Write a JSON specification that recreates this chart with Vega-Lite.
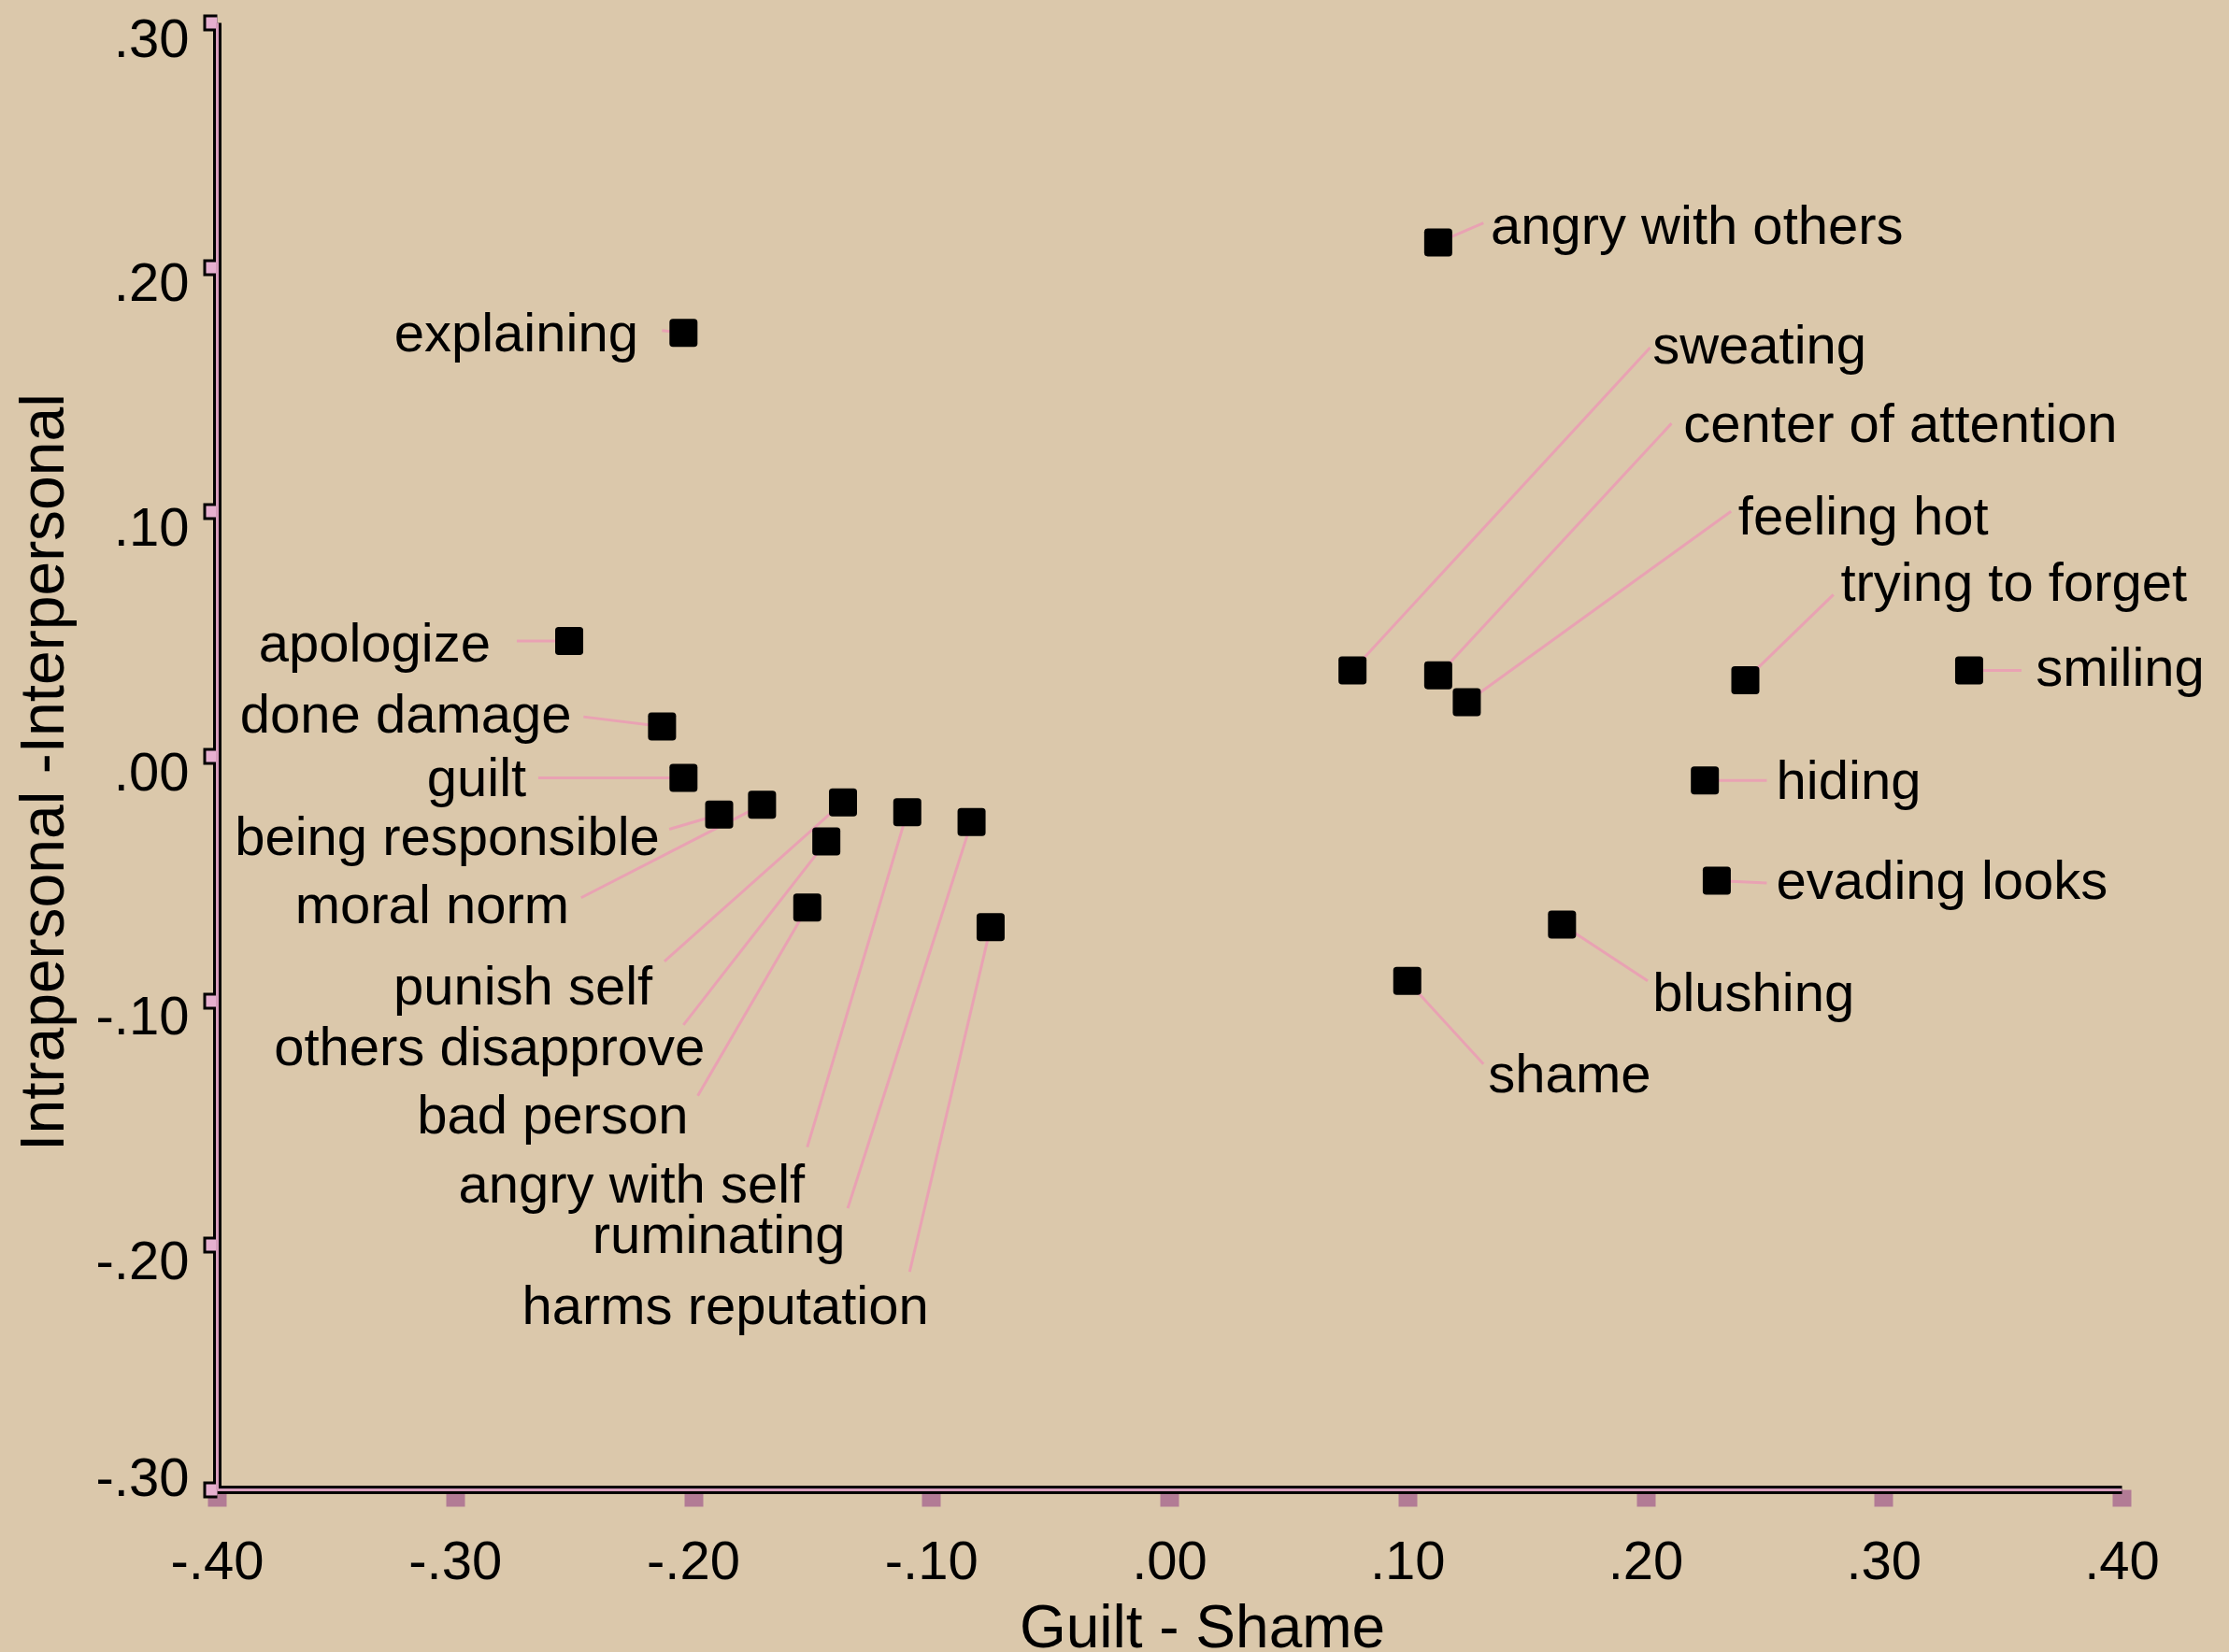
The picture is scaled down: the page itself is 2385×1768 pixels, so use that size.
{
  "$schema": "https://vega.github.io/schema/vega-lite/v6.json",
  "autosize": "none",
  "width": 2038,
  "height": 1570,
  "padding": {"left": 232, "top": 24, "right": 115, "bottom": 174},
  "background": "#dbc8ab",
  "config": {
    "view": {"stroke": null},
    "font": "Liberation Sans",
    "text": {"font": "Liberation Sans", "fontSize": 58, "color": "#000000", "baseline": "middle"}
  },
  "data": {
    "values": [
      {"label": "angry with others", "x": 0.113, "y": 0.210, "lx": 0.132, "ly": 0.218, "tx": 0.135, "ty": 0.216, "side": "R"},
      {"label": "explaining", "x": -0.204, "y": 0.173, "lx": -0.213, "ly": 0.174, "tx": -0.223, "ty": 0.172, "side": "L"},
      {"label": "apologize", "x": -0.252, "y": 0.047, "lx": -0.274, "ly": 0.047, "tx": -0.285, "ty": 0.045, "side": "L"},
      {"label": "done damage", "x": -0.213, "y": 0.012, "lx": -0.246, "ly": 0.016, "tx": -0.251, "ty": 0.016, "side": "L"},
      {"label": "guilt", "x": -0.204, "y": -0.009, "lx": -0.265, "ly": -0.009, "tx": -0.270, "ty": -0.010, "side": "L"},
      {"label": "being responsible", "x": -0.189, "y": -0.024, "lx": -0.210, "ly": -0.030, "tx": -0.214, "ty": -0.034, "side": "L"},
      {"label": "moral norm", "x": -0.171, "y": -0.020, "lx": -0.247, "ly": -0.058, "tx": -0.252, "ty": -0.062, "side": "L"},
      {"label": "punish self", "x": -0.137, "y": -0.019, "lx": -0.212, "ly": -0.084, "tx": -0.217, "ty": -0.095, "side": "L"},
      {"label": "others disapprove", "x": -0.144, "y": -0.035, "lx": -0.204, "ly": -0.110, "tx": -0.195, "ty": -0.120, "side": "L"},
      {"label": "bad person", "x": -0.152, "y": -0.062, "lx": -0.198, "ly": -0.139, "tx": -0.202, "ty": -0.148, "side": "L"},
      {"label": "angry with self", "x": -0.110, "y": -0.023, "lx": -0.152, "ly": -0.160, "tx": -0.153, "ty": -0.176, "side": "L"},
      {"label": "ruminating", "x": -0.083, "y": -0.027, "lx": -0.135, "ly": -0.185, "tx": -0.136, "ty": -0.197, "side": "L"},
      {"label": "harms reputation", "x": -0.075, "y": -0.070, "lx": -0.109, "ly": -0.211, "tx": -0.101, "ty": -0.226, "side": "L"},
      {"label": "sweating", "x": 0.077, "y": 0.035, "lx": 0.202, "ly": 0.167, "tx": 0.203, "ty": 0.167, "side": "R"},
      {"label": "center of attention", "x": 0.113, "y": 0.033, "lx": 0.211, "ly": 0.136, "tx": 0.216, "ty": 0.135, "side": "R"},
      {"label": "feeling hot", "x": 0.125, "y": 0.022, "lx": 0.236, "ly": 0.100, "tx": 0.239, "ty": 0.097, "side": "R"},
      {"label": "trying to forget", "x": 0.242, "y": 0.031, "lx": 0.279, "ly": 0.066, "tx": 0.282, "ty": 0.070, "side": "R"},
      {"label": "smiling", "x": 0.336, "y": 0.035, "lx": 0.358, "ly": 0.035, "tx": 0.364, "ty": 0.035, "side": "R"},
      {"label": "hiding", "x": 0.225, "y": -0.010, "lx": 0.251, "ly": -0.010, "tx": 0.255, "ty": -0.011, "side": "R"},
      {"label": "evading looks", "x": 0.230, "y": -0.051, "lx": 0.251, "ly": -0.052, "tx": 0.255, "ty": -0.052, "side": "R"},
      {"label": "blushing", "x": 0.165, "y": -0.069, "lx": 0.201, "ly": -0.092, "tx": 0.203, "ty": -0.098, "side": "R"},
      {"label": "shame", "x": 0.100, "y": -0.092, "lx": 0.132, "ly": -0.126, "tx": 0.134, "ty": -0.131, "side": "R"}
    ]
  },
  "resolve": {"axis": {"x": "independent", "y": "independent"}},
  "layer": [
    {
      "mark": {"type": "rule", "color": "#e9a2b3", "strokeWidth": 3},
      "encoding": {
        "x": {
          "field": "x", "type": "quantitative",
          "scale": {"domain": [-0.4, 0.4], "nice": false, "zero": false},
          "axis": {"orient": "bottom", "domainColor": "#d69cbc", "domainWidth": 3, "ticks": false, "labels": false, "grid": false, "title": null, "zindex": 2}
        },
        "y": {
          "field": "y", "type": "quantitative",
          "scale": {"domain": [-0.3, 0.3], "nice": false, "zero": false},
          "axis": {"orient": "left", "values": [-0.3, -0.2, -0.1, 0, 0.1, 0.2, 0.3], "domainColor": "#d69cbc", "domainWidth": 3, "ticks": true, "tickColor": "#e6b0d0", "tickSize": 12, "tickWidth": 12, "labels": false, "grid": false, "title": null, "zindex": 2}
        },
        "x2": {"field": "lx"},
        "y2": {"field": "ly"}
      }
    },
    {
      "mark": {"type": "point", "shape": "M -0.75 -1 L 0.75 -1 Q 1 -1 1 -0.75 L 1 0.75 Q 1 1 0.75 1 L -0.75 1 Q -1 1 -1 0.75 L -1 -0.75 Q -1 -1 -0.75 -1 Z", "size": 900, "filled": true, "color": "#000000", "opacity": 1},
      "encoding": {
        "x": {
          "field": "x", "type": "quantitative",
          "axis": {
            "orient": "bottom",
            "values": [-0.4, -0.3, -0.2, -0.1, 0, 0.1, 0.2, 0.3, 0.4],
            "labelExpr": "(datum.value < -0.0001 ? '-' : '') + replace(format(abs(datum.value), '.2f'), '0.', '.')",
            "domainColor": "#000000", "domainWidth": 9,
            "tickColor": "#b27b95", "tickWidth": 20, "tickSize": 18,
            "labelFont": "Liberation Sans", "labelFontSize": 58, "labelColor": "#000000",
            "labelPadding": 31, "labelFlush": false, "labelOverlap": false,
            "grid": false, "zindex": 1,
            "title": "Guilt - Shame", "titleFont": "Liberation Sans", "titleFontSize": 64, "titleFontWeight": "normal", "titleColor": "#000000",
            "titleX": 1054, "titleY": 168, "titleBaseline": "alphabetic", "titleAlign": "center", "titleAnchor": null
          }
        },
        "y": {
          "field": "y", "type": "quantitative",
          "axis": {
            "orient": "left",
            "values": [-0.3, -0.2, -0.1, 0, 0.1, 0.2, 0.3],
            "labelExpr": "(datum.value < -0.0001 ? '-' : '') + replace(format(abs(datum.value), '.2f'), '0.', '.')",
            "domainColor": "#000000", "domainWidth": 9,
            "tickColor": "#000000", "tickWidth": 18, "tickSize": 15,
            "labelFont": "Liberation Sans", "labelFontSize": 58, "labelColor": "#000000",
            "labelPadding": 15,
            "labelOffset": {"condition": {"test": "datum.value < -0.25", "value": -11}, "value": 19},
            "labelFlush": false, "labelOverlap": false, "labelBaseline": "middle",
            "grid": false, "zindex": 1,
            "title": "Intrapersonal -Interpersonal", "titleFont": "Liberation Sans", "titleFontSize": 66, "titleFontWeight": "normal", "titleColor": "#000000",
            "titleAngle": 270, "titleX": -165, "titleY": 802, "titleBaseline": "alphabetic", "titleAlign": "center", "titleAnchor": null
          }
        }
      }
    },
    {
      "transform": [{"filter": "datum.side === 'L'"}],
      "mark": {"type": "text", "align": "right", "baseline": "middle", "fontSize": 58, "font": "Liberation Sans", "color": "#000000"},
      "encoding": {
        "x": {"field": "tx", "type": "quantitative", "axis": null},
        "y": {"field": "ty", "type": "quantitative", "axis": null},
        "text": {"field": "label"}
      }
    },
    {
      "transform": [{"filter": "datum.side === 'R'"}],
      "mark": {"type": "text", "align": "left", "baseline": "middle", "fontSize": 58, "font": "Liberation Sans", "color": "#000000"},
      "encoding": {
        "x": {"field": "tx", "type": "quantitative", "axis": null},
        "y": {"field": "ty", "type": "quantitative", "axis": null},
        "text": {"field": "label"}
      }
    }
  ]
}
